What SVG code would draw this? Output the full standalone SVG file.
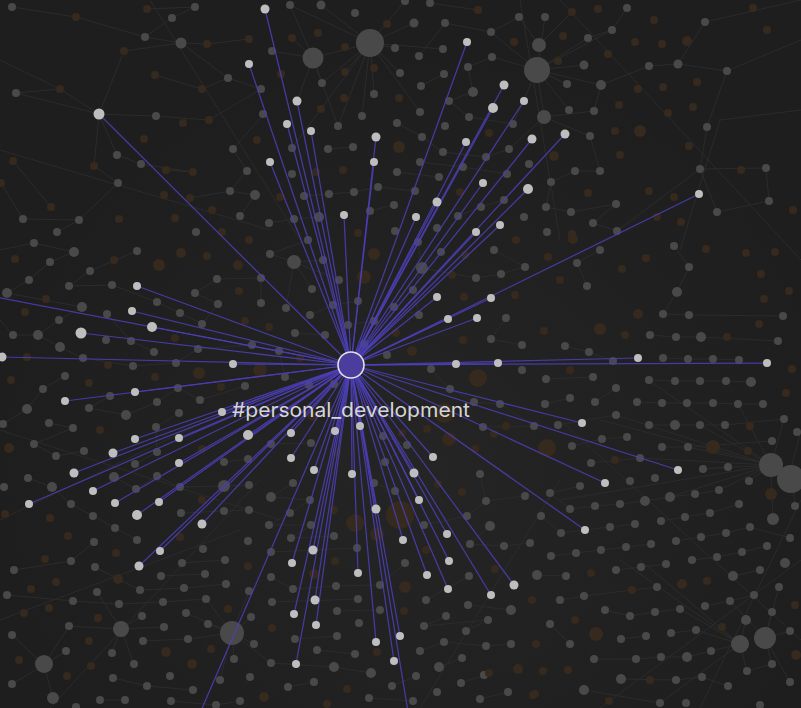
<svg xmlns="http://www.w3.org/2000/svg" width="801" height="708" viewBox="0 0 801 708">
<style>
.bg{fill:#1e1e1e}
.edges{fill:none;stroke:#2d2d2d;stroke-width:0.9}
.dim circle{fill:#494949}
.brown circle{fill:#36291d}
.sp{fill:none;stroke:#4c3fb8;stroke-width:1.25;stroke-opacity:0.85}
.hl{fill:#bebebe}
.center{fill:#4a3d9e;stroke:#e2e2e2;stroke-width:1.6}
.label{font-family:Inter,"Noto Sans","Liberation Sans",sans-serif;font-size:20px;fill:#d6d6d6}
</style>
<defs>
<radialGradient id="haze" cx="420" cy="470" r="420" gradientUnits="userSpaceOnUse">
<stop offset="0" stop-color="#2a2a2a" stop-opacity="0.55"/>
<stop offset="1" stop-color="#2a2a2a" stop-opacity="0"/>
</radialGradient>
</defs>
<rect class="bg" x="0" y="0" width="801" height="708"/>
<rect x="0" y="0" width="801" height="708" fill="url(#haze)"/>
<g id="background-edges">
<path class="edges" d="M12 7L76 17M76 17L145 37M145 37L181 43M181 43L228 78M16 93L60 89M60 89L99 114M99 114L156 116M99 114L117 155M99 114L94 166M99 114L124 51M99 114L16 93M117 155L141 164M141 164L193 172M156 116L209 120M209 120L261 89M228 78L261 89M228 78L202 89M195 7L172 18M172 18L145 37M147 9L195 7M124 51L181 43M181 43L207 44M207 44L249 39M233 149L247 171M247 171L230 191M230 191L255 195M255 195L240 216M23 219L79 220M79 220L118 183M118 183L94 166M57 232L79 220M166 170L193 172M190 198L230 191M13 161L51 207M1 183L23 219M0 60L60 89M264 114L233 149M155 75L202 89
M370 43L290 5M370 43L321 5M370 43L405 1M370 43L414 23M370 43L395 48M370 43L400 73M370 43L374 94M370 43L322 83M370 43L313 58M370 43L345 72M370 43L443 49M370 43L362 116M370 43L420 112M370 43L292 148M370 43L338 126M313 58L272 51M313 58L290 5M313 58L292 38M313 58L322 83M313 58L297 101M313 58L338 126M419 56L445 23M445 23L491 32M491 32L519 17M492 57L468 67M468 67L473 92M473 92L449 101M449 101L469 117M469 117L513 124M421 86L444 74M397 123L422 137M422 137L443 152M443 152L486 157M486 157L509 149M420 162L463 167M463 167L507 174M397 172L439 177M329 194L354 192M354 192L378 187M378 187L415 191M304 196L329 194M394 205L370 211M458 216L481 207M481 207L504 200M294 219L319 217M353 147L328 149M269 223L294 219M430 3L478 10
M537 70L545 17M537 70L588 38M537 70L584 65M537 70L567 84M537 70L569 110M537 70L544 117M537 70L491 32M537 70L492 57M537 70L513 124M537 70L612 30M537 70L601 85M539 45L519 17M539 45L572 12M544 117L594 111M544 117L590 136M544 117L509 149M627 8L612 30M612 30L588 38M649 66L678 64M678 64L705 22M678 64L727 71M727 71L707 127M707 127L700 169M700 169L766 168M766 168L769 201M727 71L801 40M705 22L801 0M600 171L575 171M575 171L551 182M551 182L546 207M546 207L571 212M571 212L616 204M616 204L593 223M593 223L617 231M617 231L700 169M717 212L769 201M717 212L700 169M601 85L649 66M601 85L594 111M590 136L600 171M720 120L801 110M680 250L720 120
M34 243L74 252M74 252L50 262M50 262L29 280M29 280L7 293M7 293L82 307M82 307L59 320M59 320L38 335M38 335L13 335M38 335L60 347M60 347L83 358M83 358L133 366M133 366L176 363M176 363L198 349M198 349L252 345M90 271L137 251M90 271L69 286M69 286L112 285M112 285L157 302M157 302L180 313M180 313L202 324M202 324L218 304M218 304L195 293M195 293L217 279M217 279L261 278M261 278L261 303M107 314L131 341M131 341L154 352M65 376L43 389M43 389L27 409M27 409L3 424M110 396L89 408M89 408L126 415M126 415L157 402M157 402L178 388M178 388L200 400M200 400L245 386M179 413L156 427M156 427L157 452M157 452L135 464M49 423L73 428M73 428L34 444M34 444L56 456M84 451L56 456M224 462L248 459M0 250L34 243M0 320L13 335
M308 240L270 254M294 262L323 260M294 262L339 280M294 262L312 289M294 262L270 254M294 262L286 308M422 268L418 242M422 268L441 252M422 268L413 290M422 268L476 278M422 268L394 307M494 250L525 267M525 267L501 274M501 274L476 278M413 290L419 315M419 315L394 307M506 318L491 339M491 339L522 345M358 301L333 305M333 305L310 315M348 325L374 321M295 333L325 335M279 351L285 377M285 377L309 385M309 385L334 384M431 369L450 389M450 389L474 402M474 402L500 404M500 404L534 426M483 427L534 426M271 444L311 443M383 436L407 445M385 462L407 445
M600 250L577 263M577 263L587 286M674 246L689 267M689 267L677 292M677 292L663 314M663 314L689 315M689 315L783 316M650 335L676 337M676 337L701 337M701 337L778 341M565 346L589 352M589 352L613 361M663 358L688 359M688 359L713 359M713 359L739 360M546 379L593 377M649 380L675 381M675 381L700 381M700 381L726 381M726 381L751 382M616 388L595 402M570 398L545 404M637 402L662 403M662 403L687 403M687 403L713 403M713 403L738 404M738 404L763 404M616 415L558 425M649 425L675 425M675 425L700 425M700 425L725 425M725 425L784 419M627 437L602 439M602 439L572 446M662 447L688 447M688 447L772 441M640 458L591 463M703 469L728 467M771 465L651 382M771 465L700 425M771 465L688 447M771 465L640 458M771 465L616 415M771 465L738 404M771 465L784 419M791 469L801 430M771 465L703 469M771 465L670 497M771 465L719 490M771 465L773 519M771 465L749 481M791 469L795 506M771 465L600 420M771 465L560 500
M580 486L550 493M550 493L570 509M570 509L595 506M595 506L620 504M620 504L645 501M645 501L670 497M670 497L695 494M695 494L719 490M541 516L561 533M561 533L610 527M610 527L635 524M661 521L685 517M685 517L710 513M710 513L739 504M676 541L701 537M701 537L726 533M726 533L750 527M750 527L790 538M551 556L576 553M576 553L601 550M601 550L626 547M626 547L651 544M692 560L717 557M717 557L742 552M742 552L767 546M616 570L641 567M641 567L666 564M566 576L537 575M733 576L760 570M657 587L584 596M584 596L560 600M705 606L730 601M730 601L754 595M605 610L630 616M630 616L655 612M655 612L680 609M550 624L570 644M671 633L696 630M621 639L646 636M594 659L636 659M636 659L661 657M661 657L687 657M687 657L711 651M747 671L772 664M621 679L676 680M676 680L702 677M702 677L728 686M584 690L660 703M740 644L746 620M740 644L711 651M740 644L696 630M740 644L747 671M740 644L680 609M765 638L790 631M765 638L772 612M765 638L772 664M765 638L790 682M740 644L660 703M765 638L779 587M740 644L620 560M765 638L730 601M740 644L640 560
M293 483L271 497M271 497L310 500M310 500L290 513M290 513L269 525M269 525L311 525M311 525L291 538M291 538L334 536M271 552L357 548M374 483L395 491M424 525L467 516M467 516L486 501M486 501L480 474M486 501L525 496M490 526L470 544M470 544L504 546M504 546L530 543M271 577L293 589M293 589L336 586M336 586L380 585M405 563L380 585M469 576L426 600M272 602L358 599M337 611L380 610M468 605L511 610M446 616L424 626M424 626L488 620M466 631L488 620M295 639L337 636M317 650L355 654M420 651L444 642M444 642L486 646M486 646L511 644M271 663L334 667M334 667L371 673M439 667L462 658M314 682L288 687M392 686L416 676M461 683L484 675M508 692L480 699M369 698L413 701
M232 633L254 644M232 633L208 624M232 633L220 680M232 633L249 591M232 633L251 617M232 633L234 659M232 633L188 639M232 633L206 599M232 633L271 663M232 633L186 613M121 629L142 616M121 629L112 653M121 629L97 592M121 629L134 664M121 629L69 626M121 629L164 627M44 665L66 651M44 665L12 635M44 665L12 684M44 665L53 698M44 665L69 626M28 478L52 487M52 487L71 504M71 504L93 516M93 516L115 528M115 528L137 540M114 477L136 489M136 489L157 476M157 476L180 487M180 487L224 486M224 486L249 485M181 513L224 511M224 511L249 510M94 542L71 561M71 561L14 570M95 567L140 590M140 590L184 588M184 588L226 584M161 576L205 574M182 563L225 560M7 595L73 601M73 601L119 604M119 604L163 602M163 602L206 599M143 641L188 639M113 678L147 686M147 686L193 690M100 700L125 700M171 701L216 705M216 705L240 701
M0 520L250 400M50 708L260 480M600 708L801 560M0 150L270 230M520 0L560 240M700 708L801 500M0 430L280 520M420 708L560 480M560 0L801 260M150 0L300 240M0 620L240 530M801 640L560 420"/>
</g>
<g id="bg-nodes" class="dim">
<circle cx="12" cy="7" r="4"/><circle cx="195" cy="7" r="4"/><circle cx="172" cy="18" r="4"/><circle cx="145" cy="37" r="4"/><circle cx="181" cy="43" r="5.5"/><circle cx="16" cy="93" r="4"/><circle cx="156" cy="116" r="4"/><circle cx="228" cy="78" r="4"/><circle cx="261" cy="89" r="4"/><circle cx="263" cy="114" r="4"/><circle cx="117" cy="155" r="4"/><circle cx="141" cy="164" r="4"/><circle cx="118" cy="183" r="4"/><circle cx="233" cy="149" r="4"/><circle cx="247" cy="171" r="4"/><circle cx="230" cy="191" r="4"/><circle cx="255" cy="195" r="5"/><circle cx="240" cy="216" r="4"/><circle cx="23" cy="219" r="4"/><circle cx="79" cy="220" r="4"/><circle cx="57" cy="232" r="4"/><circle cx="196" cy="232" r="4"/>
<circle cx="290" cy="5" r="4"/><circle cx="321" cy="5" r="4.5"/><circle cx="355" cy="13" r="4"/><circle cx="405" cy="1" r="4"/><circle cx="430" cy="3" r="4"/><circle cx="519" cy="17" r="4"/><circle cx="414" cy="23" r="4.5"/><circle cx="445" cy="23" r="4"/><circle cx="491" cy="32" r="4"/><circle cx="370" cy="43" r="14"/><circle cx="313" cy="58" r="10.5"/><circle cx="272" cy="51" r="4"/><circle cx="395" cy="48" r="4"/><circle cx="419" cy="56" r="4"/><circle cx="443" cy="49" r="4"/><circle cx="492" cy="57" r="4"/><circle cx="468" cy="67" r="4"/><circle cx="400" cy="73" r="4"/><circle cx="444" cy="74" r="4"/><circle cx="322" cy="83" r="4"/><circle cx="421" cy="86" r="4"/><circle cx="473" cy="92" r="5"/><circle cx="374" cy="94" r="4"/><circle cx="449" cy="101" r="4"/><circle cx="362" cy="116" r="4"/><circle cx="420" cy="112" r="4"/><circle cx="469" cy="117" r="4"/><circle cx="338" cy="126" r="4"/><circle cx="397" cy="123" r="4"/><circle cx="445" cy="126" r="4"/><circle cx="513" cy="124" r="4"/><circle cx="328" cy="149" r="4"/><circle cx="353" cy="147" r="4"/><circle cx="422" cy="137" r="4"/><circle cx="509" cy="149" r="4"/><circle cx="292" cy="148" r="4"/><circle cx="443" cy="152" r="4"/><circle cx="486" cy="157" r="4"/><circle cx="420" cy="162" r="4"/><circle cx="463" cy="167" r="4"/><circle cx="529" cy="164" r="4"/><circle cx="292" cy="174" r="4"/><circle cx="397" cy="172" r="4"/><circle cx="439" cy="177" r="4"/><circle cx="507" cy="174" r="4"/><circle cx="329" cy="194" r="4"/><circle cx="354" cy="192" r="4"/><circle cx="378" cy="187" r="4"/><circle cx="415" cy="191" r="4"/><circle cx="504" cy="200" r="4"/><circle cx="304" cy="196" r="4"/><circle cx="394" cy="205" r="4"/><circle cx="458" cy="216" r="4"/><circle cx="481" cy="207" r="4"/><circle cx="524" cy="217" r="4"/><circle cx="294" cy="219" r="4"/><circle cx="319" cy="217" r="5"/><circle cx="370" cy="211" r="4"/><circle cx="437" cy="228" r="4"/><circle cx="395" cy="231" r="4"/><circle cx="269" cy="223" r="4"/>
<circle cx="545" cy="17" r="4"/><circle cx="627" cy="8" r="4"/><circle cx="612" cy="30" r="4"/><circle cx="588" cy="38" r="4"/><circle cx="705" cy="22" r="4"/><circle cx="539" cy="45" r="7"/><circle cx="537" cy="70" r="13"/><circle cx="584" cy="65" r="4.5"/><circle cx="649" cy="66" r="4"/><circle cx="678" cy="64" r="4.5"/><circle cx="727" cy="71" r="4"/><circle cx="567" cy="84" r="4"/><circle cx="601" cy="85" r="5"/><circle cx="569" cy="110" r="4"/><circle cx="594" cy="111" r="4"/><circle cx="544" cy="117" r="7"/><circle cx="590" cy="136" r="4"/><circle cx="707" cy="127" r="4"/><circle cx="575" cy="171" r="4"/><circle cx="600" cy="171" r="4"/><circle cx="551" cy="182" r="4"/><circle cx="700" cy="169" r="4"/><circle cx="766" cy="168" r="4"/><circle cx="546" cy="207" r="4"/><circle cx="571" cy="212" r="4"/><circle cx="616" cy="204" r="4"/><circle cx="593" cy="223" r="4"/><circle cx="547" cy="232" r="4"/><circle cx="617" cy="231" r="4"/><circle cx="717" cy="212" r="4"/><circle cx="769" cy="201" r="4"/>
<circle cx="34" cy="243" r="4"/><circle cx="74" cy="252" r="5"/><circle cx="50" cy="262" r="4"/><circle cx="90" cy="271" r="4"/><circle cx="137" cy="251" r="4"/><circle cx="29" cy="280" r="4"/><circle cx="69" cy="286" r="4"/><circle cx="112" cy="285" r="4"/><circle cx="7" cy="293" r="5"/><circle cx="82" cy="307" r="5"/><circle cx="59" cy="320" r="4"/><circle cx="107" cy="314" r="4"/><circle cx="13" cy="335" r="4"/><circle cx="38" cy="335" r="5"/><circle cx="60" cy="347" r="5"/><circle cx="106" cy="340" r="4"/><circle cx="131" cy="341" r="4"/><circle cx="157" cy="302" r="4"/><circle cx="180" cy="313" r="4"/><circle cx="154" cy="352" r="4"/><circle cx="195" cy="293" r="4"/><circle cx="218" cy="304" r="4"/><circle cx="202" cy="324" r="4"/><circle cx="217" cy="279" r="4"/><circle cx="261" cy="303" r="4"/><circle cx="261" cy="278" r="4"/><circle cx="198" cy="349" r="4"/><circle cx="252" cy="345" r="4"/><circle cx="83" cy="358" r="4"/><circle cx="133" cy="366" r="4"/><circle cx="176" cy="363" r="4"/><circle cx="65" cy="376" r="4"/><circle cx="43" cy="389" r="4"/><circle cx="245" cy="386" r="4"/><circle cx="178" cy="388" r="4"/><circle cx="200" cy="400" r="4"/><circle cx="157" cy="402" r="4"/><circle cx="110" cy="396" r="4"/><circle cx="89" cy="408" r="4"/><circle cx="27" cy="409" r="5"/><circle cx="126" cy="415" r="5"/><circle cx="179" cy="413" r="4"/><circle cx="3" cy="424" r="4"/><circle cx="49" cy="423" r="4"/><circle cx="73" cy="428" r="4"/><circle cx="156" cy="427" r="4"/><circle cx="34" cy="444" r="4"/><circle cx="84" cy="451" r="4"/><circle cx="157" cy="452" r="4"/><circle cx="56" cy="456" r="4"/><circle cx="135" cy="464" r="4"/><circle cx="224" cy="462" r="4"/><circle cx="248" cy="459" r="4"/>
<circle cx="308" cy="240" r="4"/><circle cx="270" cy="254" r="4"/><circle cx="294" cy="262" r="7"/><circle cx="323" cy="260" r="4"/><circle cx="422" cy="268" r="6"/><circle cx="441" cy="252" r="4"/><circle cx="494" cy="250" r="4"/><circle cx="418" cy="242" r="4"/><circle cx="525" cy="267" r="4"/><circle cx="501" cy="274" r="4"/><circle cx="476" cy="278" r="4"/><circle cx="339" cy="280" r="4"/><circle cx="312" cy="289" r="4"/><circle cx="413" cy="290" r="4"/><circle cx="358" cy="301" r="4"/><circle cx="286" cy="308" r="4"/><circle cx="310" cy="315" r="4"/><circle cx="333" cy="305" r="4"/><circle cx="394" cy="307" r="4"/><circle cx="419" cy="315" r="4"/><circle cx="506" cy="318" r="4"/><circle cx="295" cy="333" r="4"/><circle cx="325" cy="335" r="4"/><circle cx="348" cy="325" r="4"/><circle cx="364" cy="344" r="4"/><circle cx="374" cy="321" r="4"/><circle cx="491" cy="339" r="4"/><circle cx="522" cy="345" r="4"/><circle cx="279" cy="351" r="4"/><circle cx="387" cy="355" r="4"/><circle cx="431" cy="369" r="4"/><circle cx="522" cy="370" r="4"/><circle cx="285" cy="377" r="4"/><circle cx="309" cy="385" r="4"/><circle cx="334" cy="384" r="4"/><circle cx="347" cy="372" r="4"/><circle cx="450" cy="389" r="4"/><circle cx="474" cy="402" r="4"/><circle cx="500" cy="404" r="4"/><circle cx="534" cy="426" r="4"/><circle cx="483" cy="427" r="4"/><circle cx="271" cy="444" r="4"/><circle cx="311" cy="443" r="4"/><circle cx="383" cy="436" r="4"/><circle cx="407" cy="445" r="4"/><circle cx="385" cy="462" r="4"/>
<circle cx="600" cy="250" r="4"/><circle cx="577" cy="263" r="4"/><circle cx="674" cy="246" r="4"/><circle cx="689" cy="267" r="4"/><circle cx="587" cy="286" r="4"/><circle cx="677" cy="292" r="5"/><circle cx="663" cy="314" r="4"/><circle cx="689" cy="315" r="4"/><circle cx="783" cy="316" r="4"/><circle cx="650" cy="335" r="4"/><circle cx="676" cy="337" r="4"/><circle cx="701" cy="337" r="5"/><circle cx="778" cy="341" r="4"/><circle cx="565" cy="346" r="4"/><circle cx="589" cy="352" r="4"/><circle cx="613" cy="361" r="4"/><circle cx="663" cy="358" r="4"/><circle cx="688" cy="359" r="4"/><circle cx="713" cy="359" r="4"/><circle cx="739" cy="360" r="4"/><circle cx="546" cy="379" r="4"/><circle cx="593" cy="377" r="4"/><circle cx="649" cy="380" r="4"/><circle cx="675" cy="381" r="4"/><circle cx="700" cy="381" r="4"/><circle cx="726" cy="381" r="4"/><circle cx="751" cy="382" r="5"/><circle cx="616" cy="388" r="4"/><circle cx="570" cy="398" r="4"/><circle cx="595" cy="402" r="4"/><circle cx="545" cy="404" r="4"/><circle cx="637" cy="402" r="4"/><circle cx="662" cy="403" r="4"/><circle cx="687" cy="403" r="4"/><circle cx="713" cy="403" r="4"/><circle cx="738" cy="404" r="4"/><circle cx="763" cy="404" r="4"/><circle cx="616" cy="415" r="4"/><circle cx="558" cy="425" r="4"/><circle cx="649" cy="425" r="4"/><circle cx="675" cy="425" r="5"/><circle cx="700" cy="425" r="4"/><circle cx="725" cy="425" r="4"/><circle cx="784" cy="419" r="4"/><circle cx="627" cy="437" r="4"/><circle cx="602" cy="439" r="4"/><circle cx="572" cy="446" r="4"/><circle cx="662" cy="447" r="4"/><circle cx="688" cy="447" r="4"/><circle cx="772" cy="441" r="4"/><circle cx="797" cy="432" r="4"/><circle cx="640" cy="458" r="4"/><circle cx="591" cy="463" r="4"/><circle cx="703" cy="469" r="4"/><circle cx="728" cy="467" r="4"/><circle cx="771" cy="465" r="12"/><circle cx="791" cy="479" r="14"/>
<circle cx="580" cy="486" r="4"/><circle cx="630" cy="481" r="4"/><circle cx="655" cy="478" r="4"/><circle cx="550" cy="493" r="4"/><circle cx="670" cy="497" r="5"/><circle cx="695" cy="494" r="4"/><circle cx="719" cy="490" r="4"/><circle cx="749" cy="481" r="4"/><circle cx="595" cy="506" r="4"/><circle cx="620" cy="504" r="4"/><circle cx="645" cy="501" r="5"/><circle cx="570" cy="509" r="4"/><circle cx="739" cy="504" r="4"/><circle cx="773" cy="519" r="6"/><circle cx="795" cy="506" r="4"/><circle cx="541" cy="516" r="4"/><circle cx="661" cy="521" r="4"/><circle cx="685" cy="517" r="4"/><circle cx="710" cy="513" r="4"/><circle cx="561" cy="533" r="4"/><circle cx="610" cy="527" r="4"/><circle cx="635" cy="524" r="4"/><circle cx="676" cy="541" r="4"/><circle cx="701" cy="537" r="4"/><circle cx="726" cy="533" r="4"/><circle cx="750" cy="527" r="4"/><circle cx="790" cy="538" r="4"/><circle cx="576" cy="553" r="4"/><circle cx="551" cy="556" r="4"/><circle cx="601" cy="550" r="4"/><circle cx="626" cy="547" r="4"/><circle cx="651" cy="544" r="4"/><circle cx="692" cy="560" r="4"/><circle cx="717" cy="557" r="4"/><circle cx="742" cy="552" r="4"/><circle cx="767" cy="546" r="4"/><circle cx="785" cy="563" r="5"/><circle cx="666" cy="564" r="4"/><circle cx="641" cy="567" r="4"/><circle cx="616" cy="570" r="4"/><circle cx="537" cy="575" r="5"/><circle cx="566" cy="576" r="4"/><circle cx="760" cy="570" r="4"/><circle cx="733" cy="576" r="5"/><circle cx="657" cy="587" r="4"/><circle cx="779" cy="587" r="4"/><circle cx="584" cy="596" r="4"/><circle cx="560" cy="600" r="4"/><circle cx="705" cy="606" r="4"/><circle cx="730" cy="601" r="4"/><circle cx="754" cy="595" r="4"/><circle cx="605" cy="610" r="4"/><circle cx="630" cy="616" r="4"/><circle cx="655" cy="612" r="4"/><circle cx="680" cy="609" r="4"/><circle cx="746" cy="620" r="5"/><circle cx="772" cy="612" r="4"/><circle cx="550" cy="624" r="4"/><circle cx="671" cy="633" r="4"/><circle cx="696" cy="630" r="4"/><circle cx="790" cy="631" r="4"/><circle cx="621" cy="639" r="4"/><circle cx="646" cy="636" r="4"/><circle cx="570" cy="644" r="4"/><circle cx="740" cy="644" r="9"/><circle cx="765" cy="638" r="11"/><circle cx="594" cy="659" r="4"/><circle cx="636" cy="659" r="4"/><circle cx="661" cy="657" r="4"/><circle cx="687" cy="657" r="5"/><circle cx="711" cy="651" r="4"/><circle cx="772" cy="664" r="4"/><circle cx="747" cy="671" r="4"/><circle cx="621" cy="679" r="5"/><circle cx="676" cy="680" r="4"/><circle cx="702" cy="677" r="4"/><circle cx="728" cy="686" r="4"/><circle cx="790" cy="682" r="4"/><circle cx="584" cy="690" r="5"/><circle cx="660" cy="703" r="4"/><circle cx="686" cy="703" r="4"/><circle cx="760" cy="705" r="4"/>
<circle cx="293" cy="483" r="4"/><circle cx="271" cy="497" r="5"/><circle cx="310" cy="500" r="4"/><circle cx="374" cy="483" r="4"/><circle cx="395" cy="491" r="4"/><circle cx="290" cy="513" r="4"/><circle cx="269" cy="525" r="4"/><circle cx="311" cy="525" r="4"/><circle cx="291" cy="538" r="4"/><circle cx="334" cy="536" r="4"/><circle cx="271" cy="552" r="4"/><circle cx="357" cy="548" r="4"/><circle cx="424" cy="525" r="4"/><circle cx="467" cy="516" r="4"/><circle cx="486" cy="501" r="4"/><circle cx="480" cy="474" r="4"/><circle cx="525" cy="496" r="4"/><circle cx="490" cy="526" r="5"/><circle cx="470" cy="544" r="4"/><circle cx="504" cy="546" r="4"/><circle cx="530" cy="543" r="4"/><circle cx="271" cy="577" r="4"/><circle cx="293" cy="589" r="4"/><circle cx="336" cy="586" r="4"/><circle cx="380" cy="585" r="4"/><circle cx="405" cy="563" r="4"/><circle cx="469" cy="576" r="4"/><circle cx="272" cy="602" r="4"/><circle cx="358" cy="599" r="4"/><circle cx="337" cy="611" r="4"/><circle cx="380" cy="610" r="4"/><circle cx="426" cy="600" r="4"/><circle cx="468" cy="605" r="4"/><circle cx="511" cy="610" r="5"/><circle cx="446" cy="616" r="4"/><circle cx="359" cy="623" r="4"/><circle cx="424" cy="626" r="4"/><circle cx="488" cy="620" r="4"/><circle cx="466" cy="631" r="4"/><circle cx="295" cy="639" r="4"/><circle cx="337" cy="636" r="4"/><circle cx="317" cy="650" r="4"/><circle cx="355" cy="654" r="4"/><circle cx="420" cy="651" r="4"/><circle cx="444" cy="642" r="4"/><circle cx="486" cy="646" r="4"/><circle cx="511" cy="644" r="4"/><circle cx="271" cy="663" r="4"/><circle cx="334" cy="667" r="5"/><circle cx="371" cy="673" r="5"/><circle cx="439" cy="667" r="5"/><circle cx="462" cy="658" r="4"/><circle cx="314" cy="682" r="4"/><circle cx="288" cy="687" r="4"/><circle cx="392" cy="686" r="4"/><circle cx="416" cy="676" r="4"/><circle cx="461" cy="683" r="4"/><circle cx="484" cy="675" r="4"/><circle cx="508" cy="692" r="4"/><circle cx="437" cy="692" r="4"/><circle cx="480" cy="699" r="4"/><circle cx="369" cy="698" r="4"/><circle cx="413" cy="701" r="4"/>
<circle cx="28" cy="478" r="4"/><circle cx="4" cy="487" r="4"/><circle cx="52" cy="487" r="5"/><circle cx="114" cy="477" r="5"/><circle cx="136" cy="489" r="4"/><circle cx="157" cy="476" r="4"/><circle cx="180" cy="487" r="4"/><circle cx="224" cy="486" r="6"/><circle cx="249" cy="485" r="4"/><circle cx="71" cy="504" r="4"/><circle cx="181" cy="513" r="4"/><circle cx="224" cy="511" r="4"/><circle cx="249" cy="510" r="4"/><circle cx="93" cy="516" r="4"/><circle cx="115" cy="528" r="4"/><circle cx="137" cy="540" r="4"/><circle cx="94" cy="542" r="4"/><circle cx="203" cy="549" r="4"/><circle cx="248" cy="541" r="4"/><circle cx="71" cy="561" r="4"/><circle cx="14" cy="570" r="4"/><circle cx="95" cy="567" r="4"/><circle cx="182" cy="563" r="4"/><circle cx="225" cy="560" r="4"/><circle cx="161" cy="576" r="4"/><circle cx="205" cy="574" r="4"/><circle cx="7" cy="595" r="4"/><circle cx="97" cy="592" r="4"/><circle cx="140" cy="590" r="4"/><circle cx="184" cy="588" r="4"/><circle cx="226" cy="584" r="4"/><circle cx="73" cy="601" r="4"/><circle cx="119" cy="604" r="4"/><circle cx="163" cy="602" r="4"/><circle cx="206" cy="599" r="4"/><circle cx="249" cy="591" r="4"/><circle cx="69" cy="626" r="4"/><circle cx="142" cy="616" r="4"/><circle cx="186" cy="613" r="4"/><circle cx="251" cy="617" r="4"/><circle cx="12" cy="635" r="4"/><circle cx="121" cy="629" r="8"/><circle cx="164" cy="627" r="4"/><circle cx="208" cy="624" r="4"/><circle cx="232" cy="633" r="12"/><circle cx="254" cy="644" r="4"/><circle cx="143" cy="641" r="4"/><circle cx="188" cy="639" r="4"/><circle cx="66" cy="651" r="4"/><circle cx="112" cy="653" r="4"/><circle cx="44" cy="664" r="9"/><circle cx="134" cy="664" r="4"/><circle cx="170" cy="676" r="4"/><circle cx="234" cy="659" r="4"/><circle cx="12" cy="684" r="4"/><circle cx="113" cy="678" r="4"/><circle cx="147" cy="686" r="4"/><circle cx="193" cy="690" r="4"/><circle cx="220" cy="680" r="4"/><circle cx="250" cy="677" r="4"/><circle cx="53" cy="698" r="6"/><circle cx="100" cy="700" r="4"/><circle cx="125" cy="700" r="4"/><circle cx="171" cy="701" r="4"/><circle cx="216" cy="705" r="4"/><circle cx="240" cy="701" r="4"/><circle cx="76" cy="707" r="4"/>
</g>
<g id="bg-tag-nodes" class="brown">
<circle cx="76" cy="17" r="4"/><circle cx="147" cy="9" r="4"/><circle cx="124" cy="51" r="4"/><circle cx="207" cy="44" r="4"/><circle cx="249" cy="39" r="4"/><circle cx="155" cy="75" r="4"/><circle cx="60" cy="89" r="4"/><circle cx="202" cy="89" r="4"/><circle cx="209" cy="120" r="4"/><circle cx="183" cy="123" r="4"/><circle cx="144" cy="139" r="4"/><circle cx="257" cy="140" r="4"/><circle cx="13" cy="161" r="4"/><circle cx="94" cy="166" r="4"/><circle cx="166" cy="170" r="4"/><circle cx="193" cy="172" r="4"/><circle cx="1" cy="183" r="4"/><circle cx="51" cy="207" r="4"/><circle cx="164" cy="195" r="4"/><circle cx="190" cy="198" r="4"/><circle cx="212" cy="210" r="4"/><circle cx="119" cy="219" r="4"/><circle cx="175" cy="218" r="4"/><circle cx="222" cy="232" r="4"/>
<circle cx="318" cy="33" r="4"/><circle cx="387" cy="24" r="4"/><circle cx="292" cy="38" r="4"/><circle cx="345" cy="47" r="4"/><circle cx="478" cy="10" r="4"/><circle cx="514" cy="42" r="4"/><circle cx="374" cy="68" r="4"/><circle cx="345" cy="72" r="4"/><circle cx="281" cy="74" r="4"/><circle cx="344" cy="98" r="4"/><circle cx="321" cy="109" r="4"/><circle cx="399" cy="98" r="4"/><circle cx="489" cy="133" r="4"/><circle cx="399" cy="147" r="6"/><circle cx="316" cy="172" r="4"/><circle cx="343" cy="170" r="4"/><circle cx="280" cy="197" r="4"/><circle cx="460" cy="192" r="4"/><circle cx="358" cy="233" r="4"/>
<circle cx="572" cy="12" r="4"/><circle cx="598" cy="9" r="4"/><circle cx="654" cy="20" r="4"/><circle cx="753" cy="8" r="4"/><circle cx="767" cy="30" r="4"/><circle cx="563" cy="36" r="4"/><circle cx="635" cy="42" r="4"/><circle cx="662" cy="44" r="4"/><circle cx="687" cy="41" r="5"/><circle cx="558" cy="61" r="4"/><circle cx="608" cy="54" r="4"/><circle cx="697" cy="82" r="4"/><circle cx="638" cy="89" r="4"/><circle cx="663" cy="87" r="4"/><circle cx="619" cy="105" r="4"/><circle cx="693" cy="107" r="4"/><circle cx="668" cy="113" r="4"/><circle cx="615" cy="131" r="4"/><circle cx="640" cy="131" r="6"/><circle cx="689" cy="146" r="4"/><circle cx="554" cy="156" r="5"/><circle cx="620" cy="155" r="4"/><circle cx="588" cy="193" r="4"/><circle cx="649" cy="191" r="4"/><circle cx="674" cy="197" r="4"/><circle cx="741" cy="170" r="4"/><circle cx="657" cy="217" r="4"/><circle cx="681" cy="222" r="4"/><circle cx="793" cy="210" r="4"/><circle cx="572" cy="234" r="4"/>
<circle cx="15" cy="259" r="4"/><circle cx="46" cy="299" r="4"/><circle cx="114" cy="260" r="4"/><circle cx="159" cy="265" r="6"/><circle cx="181" cy="253" r="5"/><circle cx="207" cy="256" r="4"/><circle cx="238" cy="265" r="5"/><circle cx="249" cy="240" r="4"/><circle cx="25" cy="312" r="4"/><circle cx="175" cy="338" r="4"/><circle cx="239" cy="291" r="4"/><circle cx="245" cy="321" r="4"/><circle cx="27" cy="357" r="4"/><circle cx="108" cy="365" r="4"/><circle cx="199" cy="373" r="6"/><circle cx="260" cy="370" r="7"/><circle cx="11" cy="380" r="4"/><circle cx="89" cy="383" r="4"/><circle cx="155" cy="377" r="4"/><circle cx="221" cy="387" r="4"/><circle cx="100" cy="430" r="4"/><circle cx="9" cy="448" r="5"/><circle cx="202" cy="449" r="4"/>
<circle cx="374" cy="254" r="6"/><circle cx="364" cy="277" r="7"/><circle cx="396" cy="333" r="4"/><circle cx="412" cy="351" r="5"/><circle cx="300" cy="358" r="4"/><circle cx="478" cy="378" r="9"/><circle cx="444" cy="413" r="10"/><circle cx="506" cy="426" r="4"/><circle cx="449" cy="439" r="7"/><circle cx="269" cy="327" r="4"/><circle cx="465" cy="255" r="4"/><circle cx="516" cy="240" r="4"/><circle cx="452" cy="275" r="4"/><circle cx="515" cy="295" r="4"/><circle cx="464" cy="297" r="4"/><circle cx="463" cy="340" r="4"/><circle cx="312" cy="416" r="5"/><circle cx="402" cy="433" r="4"/><circle cx="475" cy="449" r="4"/><circle cx="494" cy="434" r="4"/><circle cx="337" cy="453" r="4"/><circle cx="427" cy="429" r="4"/>
<circle cx="573" cy="239" r="5"/><circle cx="548" cy="257" r="4"/><circle cx="646" cy="258" r="4"/><circle cx="706" cy="249" r="4"/><circle cx="746" cy="253" r="4"/><circle cx="775" cy="252" r="4"/><circle cx="622" cy="269" r="4"/><circle cx="560" cy="280" r="4"/><circle cx="761" cy="274" r="4"/><circle cx="789" cy="291" r="4"/><circle cx="764" cy="299" r="4"/><circle cx="638" cy="314" r="5"/><circle cx="759" cy="324" r="4"/><circle cx="600" cy="329" r="6"/><circle cx="544" cy="331" r="4"/><circle cx="625" cy="335" r="4"/><circle cx="727" cy="337" r="4"/><circle cx="570" cy="370" r="4"/><circle cx="792" cy="369" r="4"/><circle cx="786" cy="393" r="4"/><circle cx="750" cy="426" r="4"/><circle cx="547" cy="448" r="9"/><circle cx="713" cy="447" r="7"/><circle cx="748" cy="451" r="4"/><circle cx="615" cy="460" r="4"/>
<circle cx="771" cy="494" r="6"/><circle cx="795" cy="605" r="4"/><circle cx="591" cy="573" r="4"/><circle cx="632" cy="590" r="4"/><circle cx="682" cy="584" r="5"/><circle cx="707" cy="581" r="4"/><circle cx="575" cy="620" r="4"/><circle cx="722" cy="627" r="4"/><circle cx="596" cy="634" r="7"/><circle cx="536" cy="644" r="4"/><circle cx="796" cy="655" r="5"/><circle cx="543" cy="671" r="4"/><circle cx="568" cy="670" r="4"/><circle cx="650" cy="680" r="4"/><circle cx="535" cy="694" r="4"/><circle cx="609" cy="701" r="4"/>
<circle cx="400" cy="515" r="14"/><circle cx="355" cy="523" r="9"/><circle cx="377" cy="534" r="7"/><circle cx="335" cy="561" r="4"/><circle cx="314" cy="574" r="5"/><circle cx="405" cy="587" r="6"/><circle cx="404" cy="611" r="4"/><circle cx="426" cy="550" r="4"/><circle cx="438" cy="484" r="4"/><circle cx="462" cy="492" r="4"/><circle cx="495" cy="569" r="4"/><circle cx="518" cy="669" r="5"/><circle cx="489" cy="673" r="4"/><circle cx="532" cy="600" r="4"/><circle cx="272" cy="628" r="4"/><circle cx="347" cy="689" r="4"/><circle cx="327" cy="704" r="4"/><circle cx="533" cy="695" r="4"/><circle cx="377" cy="652" r="4"/><circle cx="334" cy="510" r="4"/>
<circle cx="5" cy="514" r="4"/><circle cx="50" cy="518" r="4"/><circle cx="68" cy="536" r="4"/><circle cx="45" cy="559" r="4"/><circle cx="116" cy="553" r="4"/><circle cx="56" cy="582" r="4"/><circle cx="118" cy="579" r="5"/><circle cx="31" cy="589" r="4"/><circle cx="49" cy="608" r="4"/><circle cx="24" cy="613" r="4"/><circle cx="98" cy="618" r="4"/><circle cx="202" cy="500" r="4"/><circle cx="180" cy="537" r="4"/><circle cx="248" cy="566" r="4"/><circle cx="228" cy="609" r="4"/><circle cx="89" cy="641" r="4"/><circle cx="166" cy="652" r="5"/><circle cx="192" cy="664" r="5"/><circle cx="211" cy="649" r="4"/><circle cx="19" cy="660" r="4"/><circle cx="91" cy="666" r="4"/><circle cx="67" cy="676" r="4"/><circle cx="264" cy="697" r="5"/>
</g>
<g id="connectors">
<path class="sp" d="M351 365L265 9"/><path class="sp" d="M351 365L249 64"/><path class="sp" d="M351 365L99 114"/><path class="sp" d="M351 365L297 101"/><path class="sp" d="M351 365L287 124"/><path class="sp" d="M351 365L311 131"/><path class="sp" d="M351 365L270 162"/><path class="sp" d="M351 365L376 137"/><path class="sp" d="M351 365L374 162"/><path class="sp" d="M351 365L344 215"/><path class="sp" d="M351 365L467 42"/><path class="sp" d="M351 365L504 85"/><path class="sp" d="M351 365L493 108"/><path class="sp" d="M351 365L524 101"/><path class="sp" d="M351 365L532 139"/><path class="sp" d="M351 365L466 142"/><path class="sp" d="M351 365L565 134"/><path class="sp" d="M351 365L483 183"/><path class="sp" d="M351 365L528 189"/><path class="sp" d="M351 365L437 202"/><path class="sp" d="M351 365L416 217"/><path class="sp" d="M351 365L476 232"/><path class="sp" d="M351 365L500 225"/><path class="sp" d="M351 365L699 194"/><path class="sp" d="M351 365L137 286"/><path class="sp" d="M351 365L132 311"/><path class="sp" d="M351 365L152 327"/><path class="sp" d="M351 365L81 333"/><path class="sp" d="M351 365L2 357"/><path class="sp" d="M351 365L-20 294"/><path class="sp" d="M351 365L233 364"/><path class="sp" d="M351 365L135 392"/><path class="sp" d="M351 365L65 401"/><path class="sp" d="M351 365L222 412"/><path class="sp" d="M351 365L135 439"/><path class="sp" d="M351 365L179 438"/><path class="sp" d="M351 365L113 453"/><path class="sp" d="M351 365L179 463"/><path class="sp" d="M351 365L248 435"/><path class="sp" d="M351 365L74 473"/><path class="sp" d="M351 365L29 504"/><path class="sp" d="M351 365L93 491"/><path class="sp" d="M351 365L115 503"/><path class="sp" d="M351 365L137 515"/><path class="sp" d="M351 365L159 502"/><path class="sp" d="M351 365L202 524"/><path class="sp" d="M351 365L160 551"/><path class="sp" d="M351 365L139 566"/><path class="sp" d="M351 365L437 297"/><path class="sp" d="M351 365L491 298"/><path class="sp" d="M351 365L448 319"/><path class="sp" d="M351 365L477 318"/><path class="sp" d="M351 365L456 364"/><path class="sp" d="M351 365L498 363"/><path class="sp" d="M351 365L638 358"/><path class="sp" d="M351 365L767 363"/><path class="sp" d="M351 365L291 433"/><path class="sp" d="M351 365L335 431"/><path class="sp" d="M351 365L360 426"/><path class="sp" d="M351 365L291 458"/><path class="sp" d="M351 365L314 470"/><path class="sp" d="M351 365L352 474"/><path class="sp" d="M351 365L414 473"/><path class="sp" d="M351 365L433 457"/><path class="sp" d="M351 365L582 423"/><path class="sp" d="M351 365L678 470"/><path class="sp" d="M351 365L605 483"/><path class="sp" d="M351 365L585 530"/><path class="sp" d="M351 365L419 500"/><path class="sp" d="M351 365L376 509"/><path class="sp" d="M351 365L403 540"/><path class="sp" d="M351 365L447 534"/><path class="sp" d="M351 365L449 561"/><path class="sp" d="M351 365L313 550"/><path class="sp" d="M351 365L292 563"/><path class="sp" d="M351 365L358 573"/><path class="sp" d="M351 365L427 575"/><path class="sp" d="M351 365L448 589"/><path class="sp" d="M351 365L491 595"/><path class="sp" d="M351 365L514 585"/><path class="sp" d="M351 365L315 600"/><path class="sp" d="M351 365L294 614"/><path class="sp" d="M351 365L316 625"/><path class="sp" d="M351 365L400 636"/><path class="sp" d="M351 365L376 642"/><path class="sp" d="M351 365L394 661"/><path class="sp" d="M351 365L296 664"/><path class="sp" d="M351 365L190 736"/><path class="sp" d="M351 365L412 736"/>
</g>
<g id="linked-nodes" class="hl">
<g id="n1"><circle cx="265" cy="9" r="4.5"/></g><g id="n2"><circle cx="249" cy="64" r="4"/></g><g id="n3"><circle cx="99" cy="114" r="5.5"/></g><g id="n4"><circle cx="297" cy="101" r="4.5"/></g><g id="n5"><circle cx="287" cy="124" r="4"/></g><g id="n6"><circle cx="311" cy="131" r="4"/></g><g id="n7"><circle cx="270" cy="162" r="4"/></g><g id="n8"><circle cx="376" cy="137" r="4.5"/></g><g id="n9"><circle cx="374" cy="162" r="4"/></g><g id="n10"><circle cx="344" cy="215" r="4"/></g>
<g id="n11"><circle cx="467" cy="42" r="4"/></g><g id="n12"><circle cx="504" cy="85" r="4.5"/></g><g id="n13"><circle cx="493" cy="108" r="5"/></g><g id="n14"><circle cx="524" cy="101" r="4"/></g><g id="n15"><circle cx="532" cy="139" r="4.5"/></g><g id="n16"><circle cx="466" cy="142" r="4"/></g><g id="n17"><circle cx="565" cy="134" r="4.5"/></g><g id="n18"><circle cx="483" cy="183" r="4"/></g><g id="n19"><circle cx="528" cy="189" r="5"/></g><g id="n20"><circle cx="437" cy="202" r="4.5"/></g>
<g id="n21"><circle cx="416" cy="217" r="4"/></g><g id="n22"><circle cx="476" cy="232" r="4"/></g><g id="n23"><circle cx="500" cy="225" r="4"/></g><g id="n24"><circle cx="699" cy="194" r="4"/></g><g id="n25"><circle cx="137" cy="286" r="4"/></g><g id="n26"><circle cx="132" cy="311" r="4"/></g><g id="n27"><circle cx="152" cy="327" r="5"/></g><g id="n28"><circle cx="81" cy="333" r="5.5"/></g><g id="n29"><circle cx="2" cy="357" r="4.5"/></g><g id="n30"><circle cx="233" cy="364" r="4"/></g>
<g id="n31"><circle cx="135" cy="392" r="4"/></g><g id="n32"><circle cx="65" cy="401" r="4"/></g><g id="n33"><circle cx="222" cy="412" r="4"/></g><g id="n34"><circle cx="135" cy="439" r="4"/></g><g id="n35"><circle cx="179" cy="438" r="4"/></g><g id="n36"><circle cx="113" cy="453" r="4.5"/></g><g id="n37"><circle cx="179" cy="463" r="4"/></g><g id="n38"><circle cx="248" cy="435" r="5"/></g><g id="n39"><circle cx="74" cy="473" r="4.5"/></g><g id="n40"><circle cx="29" cy="504" r="4"/></g>
<g id="n41"><circle cx="93" cy="491" r="4"/></g><g id="n42"><circle cx="115" cy="503" r="4"/></g><g id="n43"><circle cx="137" cy="515" r="5"/></g><g id="n44"><circle cx="159" cy="502" r="4"/></g><g id="n45"><circle cx="202" cy="524" r="4.5"/></g><g id="n46"><circle cx="160" cy="551" r="4"/></g><g id="n47"><circle cx="139" cy="566" r="4.5"/></g><g id="n48"><circle cx="437" cy="297" r="4"/></g><g id="n49"><circle cx="491" cy="298" r="4"/></g><g id="n50"><circle cx="448" cy="319" r="4"/></g>
<g id="n51"><circle cx="477" cy="318" r="4"/></g><g id="n52"><circle cx="456" cy="364" r="4"/></g><g id="n53"><circle cx="498" cy="363" r="4"/></g><g id="n54"><circle cx="638" cy="358" r="4"/></g><g id="n55"><circle cx="767" cy="363" r="4"/></g><g id="n56"><circle cx="291" cy="433" r="4"/></g><g id="n57"><circle cx="335" cy="431" r="4"/></g><g id="n58"><circle cx="360" cy="426" r="4"/></g><g id="n59"><circle cx="291" cy="458" r="4"/></g><g id="n60"><circle cx="314" cy="470" r="4"/></g>
<g id="n61"><circle cx="352" cy="474" r="4"/></g><g id="n62"><circle cx="414" cy="473" r="4.5"/></g><g id="n63"><circle cx="433" cy="457" r="4"/></g><g id="n64"><circle cx="582" cy="423" r="4"/></g><g id="n65"><circle cx="678" cy="470" r="4"/></g><g id="n66"><circle cx="605" cy="483" r="4"/></g><g id="n67"><circle cx="585" cy="530" r="4"/></g><g id="n68"><circle cx="419" cy="500" r="4"/></g><g id="n69"><circle cx="376" cy="509" r="4.5"/></g><g id="n70"><circle cx="403" cy="540" r="4"/></g>
<g id="n71"><circle cx="447" cy="534" r="4"/></g><g id="n72"><circle cx="449" cy="561" r="4"/></g><g id="n73"><circle cx="313" cy="550" r="4.5"/></g><g id="n74"><circle cx="292" cy="563" r="4"/></g><g id="n75"><circle cx="358" cy="573" r="4"/></g><g id="n76"><circle cx="427" cy="575" r="4"/></g><g id="n77"><circle cx="448" cy="589" r="4"/></g><g id="n78"><circle cx="491" cy="595" r="4"/></g><g id="n79"><circle cx="514" cy="585" r="4.5"/></g><g id="n80"><circle cx="315" cy="600" r="4.5"/></g>
<g id="n81"><circle cx="294" cy="614" r="4"/></g><g id="n82"><circle cx="316" cy="625" r="4"/></g><g id="n83"><circle cx="400" cy="636" r="4"/></g><g id="n84"><circle cx="376" cy="642" r="4"/></g><g id="n85"><circle cx="394" cy="661" r="4"/></g><g id="n86"><circle cx="296" cy="664" r="4"/></g>
</g>
<g id="tag-personal-development">
<circle class="center" cx="351" cy="365" r="13"/>
<text class="label" x="351" y="417" text-anchor="middle" textLength="238" lengthAdjust="spacingAndGlyphs">#personal_development</text>
</g>
</svg>
